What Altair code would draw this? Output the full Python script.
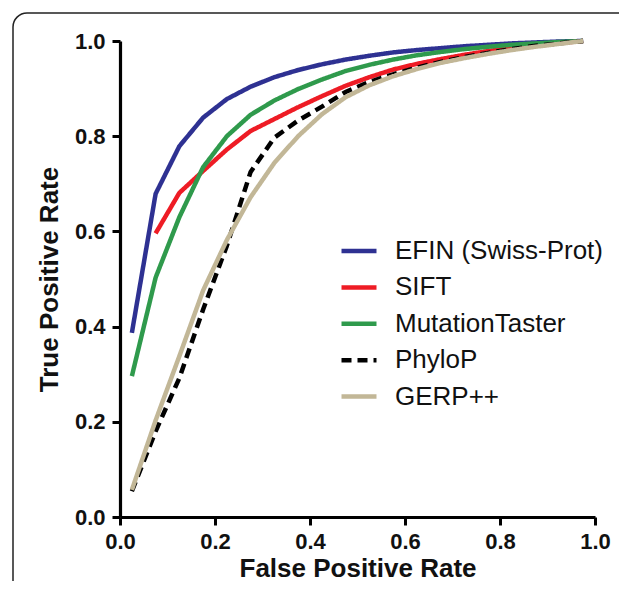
import altair as alt
import pandas as pd

fpr = [0.025, 0.075, 0.125, 0.175, 0.225, 0.275, 0.325, 0.375, 0.425, 0.475,
       0.525, 0.575, 0.625, 0.675, 0.725, 0.775, 0.825, 0.875, 0.925, 0.975]

efin = [0.387, 0.679, 0.779, 0.839, 0.878, 0.904, 0.924, 0.939, 0.951, 0.961,
        0.969, 0.976, 0.981, 0.985, 0.989, 0.992, 0.995, 0.997, 0.999, 1.0]
sift = [None, 0.596, 0.681, 0.727, 0.772, 0.811, 0.836, 0.861, 0.884, 0.906,
        0.924, 0.940, 0.952, 0.962, 0.971, 0.979, 0.986, 0.991, 0.996, 1.0]
mtaster = [0.296, 0.503, 0.630, 0.735, 0.800, 0.845, 0.875, 0.899, 0.919, 0.937,
           0.950, 0.961, 0.970, 0.977, 0.983, 0.988, 0.992, 0.995, 0.998, 1.0]
phylop = [0.054, 0.180, 0.292, 0.436, 0.570, 0.725, 0.797, 0.833, 0.862, 0.893,
          0.914, 0.930, 0.944, 0.956, 0.966, 0.975, 0.983, 0.990, 0.995, 1.0]
gerp = [0.057, 0.203, 0.338, 0.476, 0.582, 0.672, 0.744, 0.800, 0.846, 0.882,
        0.907, 0.926, 0.941, 0.954, 0.964, 0.973, 0.981, 0.988, 0.994, 1.0]

series_names = ["EFIN (Swiss-Prot)", "SIFT", "MutationTaster", "PhyloP", "GERP++"]
series_vals = [efin, sift, mtaster, phylop, gerp]
colors = ["#2E3192", "#EE1C25", "#2F9A4C", "#000000", "#C2B797"]
dashes = [[1, 0], [1, 0], [1, 0], [10, 6], [1, 0]]
tick_values = [0, 0.2, 0.4, 0.6, 0.8, 1.0]

rows = []
for name, vals in zip(series_names, series_vals):
    for x, y in zip(fpr, vals):
        if y is not None:
            rows.append({"method": name, "fpr": x, "tpr": y})
df = pd.DataFrame(rows)

legend_opts = dict(title=None, orient="none", legendX=219, legendY=190,
                   symbolType="stroke", symbolStrokeWidth=4.5,
                   symbolSize=1225, labelFontSize=26,
                   labelFont="Liberation Sans", labelOffset=16, labelLimit=400,
                   rowPadding=3.4, padding=0, labelColor="#111")

lines = alt.Chart(df).mark_line(strokeWidth=4.5, strokeCap="butt").encode(
    x=alt.X("fpr:Q", title="False Positive Rate",
            scale=alt.Scale(domain=[0, 1], nice=False),
            axis=alt.Axis(values=tick_values, format=".1f", labelFlush=False)),
    y=alt.Y("tpr:Q", title="True Positive Rate",
            scale=alt.Scale(domain=[0, 1], nice=False),
            axis=alt.Axis(values=tick_values, format=".1f", labelFlush=False)),
    color=alt.Color("method:N", scale=alt.Scale(domain=series_names, range=colors),
                    legend=alt.Legend(**legend_opts)),
    strokeDash=alt.StrokeDash("method:N", scale=alt.Scale(domain=series_names, range=dashes),
                              legend=alt.Legend(**legend_opts)),
    order=alt.Order("fpr:Q"),
)

frame_df = pd.DataFrame({"k": [0]})
frame = alt.Chart(frame_df).mark_rect(filled=False, stroke="#222", strokeWidth=1.5,
                                      cornerRadius=14).encode(
    x=alt.value(-107), x2=alt.value(560), y=alt.value(-28), y2=alt.value(600)
)

chart = alt.layer(frame, lines).properties(
    width=475, height=476,
    autosize=alt.AutoSizeParams(type="none"),
    padding={"left": 112, "top": 33, "right": 24, "bottom": 64},
).configure_view(stroke=None).configure_axis(
    grid=False,
    domainColor="#000", domainWidth=3.2,
    tickColor="#000", tickWidth=3, tickSize=8,
    labelFont="Liberation Sans", labelFontWeight="bold", labelFontSize=22, labelColor="#111",
    titleFont="Liberation Sans", titleFontWeight="bold", titleFontSize=26, titleColor="#111",
).configure_axisX(labelPadding=6, titlePadding=3).configure_axisY(labelPadding=7, titlePadding=12)

chart.save("out.html", embed_options={"renderer": "svg", "actions": False})
